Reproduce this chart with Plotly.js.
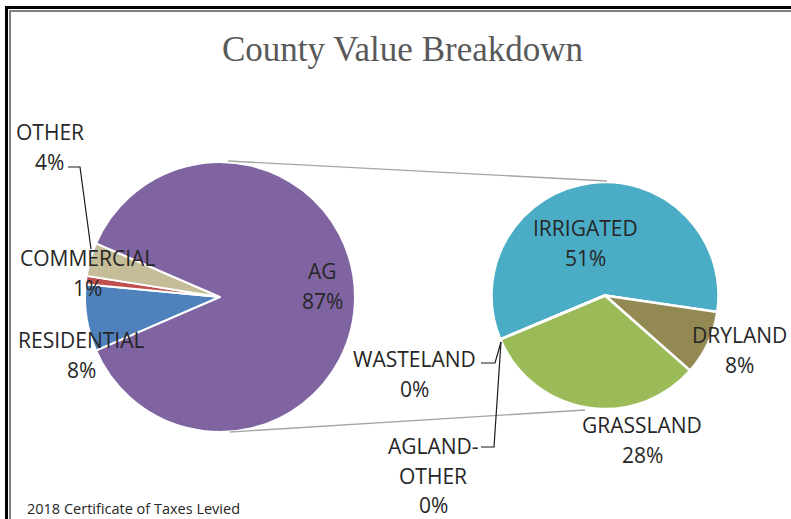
<!DOCTYPE html>
<html><head><meta charset="utf-8">
<script src="https://cdn.plot.ly/plotly-3.0.1.min.js"></script>
<style>html,body{margin:0;padding:0;background:#fff;} #chart{width:791px;height:519px;}</style>
</head><body><div id="chart"></div>
<script>
// ---- data ----
const mainLabels = ['RESIDENTIAL', 'COMMERCIAL', 'OTHER', 'AG'];
const mainValues = [8, 1, 4, 87];
const agLabels = ['IRRIGATED', 'DRYLAND', 'GRASSLAND', 'WASTELAND', 'AGLAND-OTHER'];
const agValues = [51, 8, 28, 0, 0];
const mainColors = ['#4F81BD', '#C0504D', '#C4BD97', '#8064A2'];
const agColors = ['#4BACC6', '#938953', '#9BBB59', '#F79646', '#2C4D75'];
const chartTitle = 'County Value Breakdown';
const footnote = '2018 Certificate of Taxes Levied';

// ---- layout helpers ----
const W = 791, H = 519;
const px = x => x / W, py = y => 1 - y / H;
const total = mainValues.reduce((a, b) => a + b, 0);
const pct = v => Math.round(v / total * 100) + '%';

const L = {cx: 220, cy: 297, r: 135};
const R = {cx: 605, cy: 295.5, r: 113.5};
function domain(p) {
  return {x: [px(p.cx - p.r), px(p.cx + p.r)], y: [py(p.cy + p.r), py(p.cy - p.r)]};
}
const smallShare = (total - mainValues[mainValues.length - 1]) / total * 360;

const labelPos = {
  'AG': [322, 271], 'RESIDENTIAL': [81, 340], 'COMMERCIAL': [87, 258], 'OTHER': [50, 132],
  'IRRIGATED': [585, 228], 'DRYLAND': [739, 335], 'GRASSLAND': [642, 425],
  'WASTELAND': [414, 359], 'AGLAND-OTHER': [433, 446]
};
const lineGap = 29.5;
const labelFont = {family: 'Open Sans, Noto Sans, sans-serif', size: 21, color: '#262626'};

const annotations = [];
function addLabel(name, value) {
  const pos = labelPos[name];
  const lines = name === 'AGLAND-OTHER' ? ['AGLAND-', 'OTHER'] : [name];
  lines.push(pct(value));
  lines.forEach((t, i) => {
    annotations.push({xref: 'paper', yref: 'paper', x: px(pos[0]), y: py(pos[1] + i * lineGap),
      xanchor: 'center', yanchor: 'middle', text: t, showarrow: false, font: labelFont});
  });
}
mainLabels.forEach((n, i) => addLabel(n, mainValues[i]));
agLabels.forEach((n, i) => addLabel(n, agValues[i]));

annotations.push({xref: 'paper', yref: 'paper', x: px(402.5), y: py(50), xanchor: 'center', yanchor: 'middle',
  text: chartTitle, showarrow: false,
  font: {family: 'Liberation Serif, serif', size: 35, color: '#595959'}});
annotations.push({xref: 'paper', yref: 'paper', x: px(25), y: py(508), xanchor: 'left', yanchor: 'middle',
  text: footnote, showarrow: false,
  font: {family: 'Open Sans, sans-serif', size: 14.5, color: '#262626'}});

function pathOf(pts) {
  return 'M ' + pts.map(p => px(p[0]) + ',' + py(p[1])).join(' L ');
}
const shapes = [
  // connectors
  {type: 'path', xref: 'paper', yref: 'paper', path: pathOf([[228, 161], [607, 181]]), line: {color: '#A6A6A6', width: 1.3}},
  {type: 'path', xref: 'paper', yref: 'paper', path: pathOf([[230, 432], [585, 410]]), line: {color: '#A6A6A6', width: 1.3}},
  // leader lines
  {type: 'path', xref: 'paper', yref: 'paper', path: pathOf([[68, 167], [80, 167], [91, 249]]), line: {color: '#1a1a1a', width: 1.2}},
  {type: 'path', xref: 'paper', yref: 'paper', path: pathOf([[481, 363], [495, 363], [501, 342]]), line: {color: '#1a1a1a', width: 1.2}},
  {type: 'path', xref: 'paper', yref: 'paper', path: pathOf([[481, 447], [494, 447], [501, 342]]), line: {color: '#1a1a1a', width: 1.2}},
  // frame
  {type: 'path', xref: 'paper', yref: 'paper', path: pathOf([[6.5, 530], [6.5, 7.5], [800, 7.5]]), line: {color: '#000000', width: 3}},
  {type: 'path', xref: 'paper', yref: 'paper', path: pathOf([[10, 530], [10, 11], [800, 11]]), line: {color: '#808080', width: 2}}
];

const traces = [
  {type: 'pie', labels: mainLabels, values: mainValues, sort: false, direction: 'clockwise',
   rotation: 270 - smallShare / 2, domain: domain(L), textinfo: 'none', hoverinfo: 'label+percent',
   marker: {colors: mainColors, line: {color: '#ffffff', width: 2}}},
  {type: 'pie', labels: agLabels, values: agValues, sort: false, direction: 'clockwise',
   rotation: 247.3, domain: domain(R), textinfo: 'none', hoverinfo: 'label+value',
   marker: {colors: agColors, line: {color: '#ffffff', width: 2.5}}}
];

Plotly.newPlot('chart', traces, {
  width: W, height: H, margin: {l: 0, r: 0, t: 0, b: 0},
  paper_bgcolor: '#ffffff', plot_bgcolor: '#ffffff', showlegend: false,
  annotations: annotations, shapes: shapes
}, {displayModeBar: false, staticPlot: false});
</script></body></html>
